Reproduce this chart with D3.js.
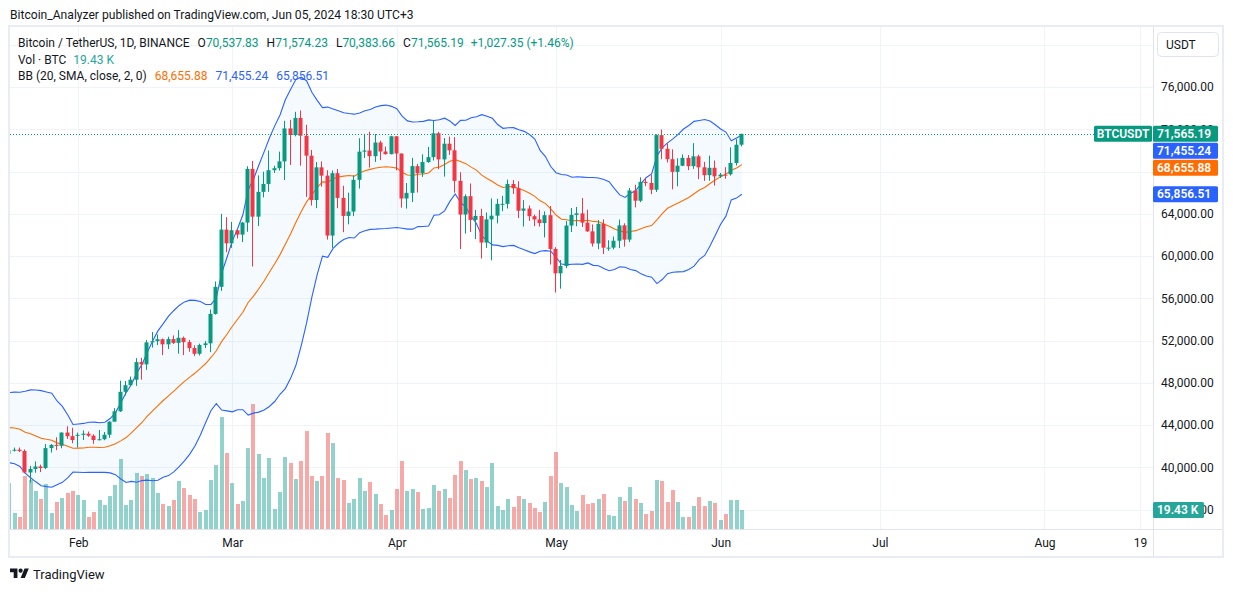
<!DOCTYPE html>
<html><head><meta charset="utf-8">
<script src="https://cdn.jsdelivr.net/npm/d3@7"></script>
<style>
body{margin:0;background:#fff;}
svg text{font-family:Roboto,"Noto Sans",sans-serif;}
</style></head>
<body><svg id="c" width="1233" height="592"></svg>
<script>
// ---------- DATA (daily BTCUSDT, 2024-01-19 .. 2024-06-05) ----------
const startDate = new Date(Date.UTC(2024,0,19));
const endDate = new Date(Date.UTC(2024,5,6));
const dates = d3.utcDay.range(startDate, endDate);

const open = [41278,41618,41665,41545,39507,39845,40077,39934,41816,42120,42035,43289,42947,
43000,43075,43185,42992,42583,42658,43084,44318,45301,47147,47771,48293,49958,49743,51826,51939,52124,51642,52138,51774,52258,51849,51288,50745,51572,51733,54523,57086,62504,
61198,62440,62030,63168,68245,63724,66074,66823,68124,68313,68955,72078,71452,73072,71388,69499,65300,68393,67609,61937,67840,65501,63796,64209,67211,69880,69988,69451,70745,69892,69645,
71333,69702,65446,65980,68508,67837,68896,69360,71620,69146,70631,70006,67116,63924,65661,63419,63793,61277,63470,63818,64940,64941,66819,66414,64289,64498,63770,63461,63118,63866,
60672,58364,59060,62882,63892,64038,63161,62334,61187,63049,60792,60793,61448,62901,61552,66206,65235,67024,66915,66274,71446,70148,69166,67969,68549,69290,68507,69436,68399,67652,68352,
67541,67706,67740,68804,70537.83];
const high = [42134,41869,41870,41689,40129,40555,40254,42210,42200,42842,43305,43882,43745,
43285,43489,43381,43119,43535,43345,44368,45600,48200,48170,48592,50334,50368,52043,52816,52575,52191,52357,52485,52985,52374,52059,51548,51708,51958,54938,57588,64000,63676,
63231,62487,63230,68499,69000,67637,67980,69990,68541,69887,72800,72890,73650,73777,72419,70043,68904,68956,68124,68100,68240,66650,65999,67628,71150,71561,71770,71552,70913,70355,71377,
71342,69708,66914,69291,68725,69629,70326,72797,71758,71172,71305,71256,67931,65840,66867,64365,64475,64125,65450,65419,65695,67233,67199,67075,65297,64791,63923,64370,64228,64734,
60841,59625,63320,64545,64646,65495,64390,62985,63404,63469,61490,61850,63450,63099,66444,66752,67451,67400,67700,71515,71979,70666,70096,69250,69610,69562,70687,69591,68914,69500,69044,
67860,68409,70288,71063,71574.23];
const low = [40297,41500,41446,39431,38555,39485,39550,39825,41394,41620,41804,42683,42276,
41884,42584,42880,42222,42546,42565,42788,44331,45243,46800,47688,47710,48300,49225,51330,51570,50625,51200,51677,50760,50625,50940,50525,50590,51280,50901,54451,56700,60364,
60777,61661,61320,62300,59005,62848,65551,66082,67861,68094,67194,68620,71333,68555,65600,64780,64533,66566,61555,60775,64529,62260,63000,63777,66385,69280,68379,68903,69076,69601,69624,
68110,64586,64494,65113,66011,67491,68824,69043,68210,67518,69567,66000,60660,62134,62274,61600,59768,60775,59600,63090,64237,64500,65864,63589,62794,63322,62824,62781,61765,59191,
56552,56911,58848,62274,62822,62746,62285,60888,60648,60187,60492,60632,60750,60888,61320,64602,65106,66600,65857,66060,69162,68852,66312,66600,68500,68128,68250,67278,67113,67128,66670,
67386,67315,67613,68567,70383.66];
const close = [41618,41665,41545,39507,39845,40077,39934,41816,42120,42035,43289,42947,42582,
43075,43185,42992,42583,42658,43084,44318,45301,47147,47771,48293,49958,49743,51826,51939,52124,51642,52138,51774,52258,51849,51288,50745,51572,51733,54523,57086,62504,61198,
62440,62030,63168,68245,63724,66074,66823,68124,68313,68955,72078,71452,73072,71388,69499,65300,68393,67609,61937,67840,65501,63796,64209,67211,69880,69988,69451,70745,69892,69645,71333,
69702,65446,65980,68508,67837,68896,69360,71620,69146,70631,70006,67116,63924,65661,63419,63793,61277,63470,63818,64940,64941,66819,66414,64289,64498,63770,63461,63118,63866,60672,
58364,59060,62882,63892,64038,63161,62334,61187,63049,60792,60793,61448,62901,61552,66206,65235,67024,66915,66274,71446,70148,69166,67969,68549,69290,68507,69436,68399,67652,68352,67541,
67706,67700,68804,70537.84,71565.19];
// volume in thousands of BTC
const volume = [47.0,16.4,12.3,54.2,50.1,38.9,30.7,46.0,16.4,27.6,31.7,36.8,38.9,
34.8,29.7,12.3,17.4,29.7,24.5,33.7,45.0,71.6,24.5,29.7,57.3,54.2,56.2,52.2,36.8,25.6,23.5,29.7,49.1,41.9,34.8,30.7,17.4,19.4,50.1,65.4,114.5,77.7,
47.0,25.6,28.6,82.8,127.8,76.7,52.2,72.6,20.5,37.8,73.6,67.5,51.1,69.5,100.2,54.2,49.1,54.2,98.2,87.9,52.2,50.1,26.6,30.7,52.2,38.9,48.1,35.8,25.6,14.3,19.4,
40.9,69.5,38.9,40.9,37.8,20.5,21.5,45.0,38.9,40.9,31.7,55.2,69.5,60.3,51.1,52.2,49.1,42.9,67.5,23.5,19.4,30.7,22.5,33.7,30.7,26.6,21.5,17.4,27.6,54.2,
78.7,47.0,42.9,24.5,18.4,34.8,25.6,26.6,30.7,35.8,14.3,13.3,32.7,28.6,42.9,30.7,26.6,15.3,18.4,50.1,49.1,27.6,39.9,27.6,12.3,12.3,23.5,32.7,23.5,28.6,26.6,
9.2,15.3,29.7,29.7,19.43];
// closes 2023-12-31 .. 2024-01-18 (warm-up for the 20-day Bollinger Bands)
const priorCloses = [42283,44180,44946,42845,44151,44162,43969,43929,46951,46110,46633,46340,42782,42847,41732,42511,43143,42741,41262];
const bbLast = [68655.88, 71455.24, 65856.51]; // basis, upper, lower as shown in legend
const priceTicks = d3.range(36000, 80001, 4000);
const hiddenTicks = [68000, 80000]; // covered by the axis labels / currency button
const timeTicks = [[2024,1,1,"Feb"],[2024,2,1,"Mar"],[2024,3,1,"Apr"],[2024,4,1,"May"],[2024,5,1,"Jun"],[2024,6,1,"Jul"],[2024,7,1,"Aug"],[2024,7,19,"19"]];

// ---------- LAYOUT ----------
const C = {up:"#089981", down:"#f23645", volUp:"rgba(38,166,154,0.5)", volDown:"rgba(239,83,80,0.5)",
  txt:"#131722", grid:"#f0f3fa", bbLine:"#2962ff", bbMid:"#ff6d00", border:"#e0e3eb"};
const plotL=10, plotR=1153, plotT=27, plotB=529;
const svg = d3.select("#c");

const x = d3.scaleUtc().domain([new Date(Date.UTC(2024,1,1)), new Date(Date.UTC(2024,7,19))]).range([78.3,1140]);
const y = d3.scaleLinear().domain([40000,76000]).range([467.3,87]);
const yVol = d3.scaleLinear().domain([0,130]).range([plotB, plotB-130*19/19.43]);

svg.append("rect").attr("width",1233).attr("height",592).attr("fill","#fff");

// clip
svg.append("clipPath").attr("id","pc").append("rect")
  .attr("x",plotL).attr("y",plotT).attr("width",plotR-plotL).attr("height",plotB-plotT);

const grid = svg.append("g").attr("clip-path","url(#pc)");
grid.selectAll("line.h").data(priceTicks.concat([84000])).join("line")
  .attr("x1",plotL).attr("x2",plotR).attr("y1",d=>Math.round(y(d))+0.5).attr("y2",d=>Math.round(y(d))+0.5)
  .attr("stroke",C.grid).attr("stroke-width",1);
grid.selectAll("line.v").data(timeTicks).join("line")
  .attr("y1",plotT).attr("y2",plotB)
  .attr("x1",d=>Math.round(x(new Date(Date.UTC(d[0],d[1],d[2]))))+0.5)
  .attr("x2",d=>Math.round(x(new Date(Date.UTC(d[0],d[1],d[2]))))+0.5)
  .attr("stroke",C.grid).attr("stroke-width",1);

// Bollinger bands (20, SMA, close, 2)
const allCloses = priorCloses.concat(close);
const bb = close.map((c,i)=>{
  const win = allCloses.slice(i, i+20);
  const m = d3.mean(win);
  const sd = Math.sqrt(d3.mean(win, v=>(v-m)*(v-m)));
  return {d:dates[i], mid:m, up:m+2*sd, lo:m-2*sd};
});

const plot = svg.append("g").attr("clip-path","url(#pc)");

// volume
const rows = dates.map((d,i)=>({d, o:open[i], h:high[i], l:low[i], c:close[i], v:volume[i]}));
plot.append("g").selectAll("rect").data(rows).join("rect")
  .attr("x",d=>Math.round(x(d.d))-2).attr("width",4)
  .attr("y",d=>yVol(d.v)).attr("height",d=>plotB-yVol(d.v))
  .attr("fill",d=>d.c>=d.o?C.volUp:C.volDown);

// band fill + lines
plot.append("path").datum(bb)
  .attr("d", d3.area().x(d=>x(d.d)).y0(d=>y(d.lo)).y1(d=>y(d.up)))
  .attr("fill","rgba(33,150,243,0.05)");
[["up",C.bbLine],["lo",C.bbLine],["mid",C.bbMid]].forEach(([k,col])=>{
  plot.append("path").datum(bb)
    .attr("d", d3.line().x(d=>x(d.d)).y(d=>y(d[k])))
    .attr("fill","none").attr("stroke",col).attr("stroke-width",1.1);
});

// candles
const cg = plot.append("g").selectAll("g").data(rows).join("g");
cg.append("rect")
  .attr("x",d=>Math.round(x(d.d))-1).attr("width",1)
  .attr("y",d=>y(d.h)).attr("height",d=>Math.max(1,y(d.l)-y(d.h)))
  .attr("fill",d=>d.c>=d.o?C.up:C.down);
cg.append("rect")
  .attr("x",d=>Math.round(x(d.d))-2.5).attr("width",4)
  .attr("y",d=>y(Math.max(d.o,d.c))).attr("height",d=>Math.max(1,Math.abs(y(d.o)-y(d.c))))
  .attr("fill",d=>d.c>=d.o?C.up:C.down);

// last price dotted line
const lastY = y(close[close.length-1]);
svg.append("line").attr("x1",plotL).attr("x2",1094).attr("y1",Math.round(lastY)+0.5).attr("y2",Math.round(lastY)+0.5)
  .attr("stroke",C.up).attr("stroke-width",1).attr("stroke-dasharray","1 2");

// frame & separators
svg.append("line").attr("x1",1153.5).attr("x2",1153.5).attr("y1",plotT).attr("y2",556).attr("stroke",C.border);
svg.append("line").attr("x1",plotL).attr("x2",1223).attr("y1",529.5).attr("y2",529.5).attr("stroke",C.border);
svg.append("rect").attr("x",9).attr("y",26).attr("width",1214).attr("height",531)
  .attr("fill","none").attr("stroke","#e9ecf2").attr("stroke-width",2);

// price axis
const pa = svg.append("g").attr("transform","translate(1153,0)")
  .call(d3.axisRight(y).tickValues(priceTicks.filter(v=>!hiddenTicks.includes(v))).tickFormat(d3.format(",.2f")).tickSize(0).tickPadding(8));
pa.select(".domain").remove();
pa.selectAll("text").attr("font-size",12).attr("fill",C.txt).attr("font-family","Roboto, sans-serif");

// time axis
const ta = svg.append("g").attr("transform","translate(0,529)")
  .call(d3.axisBottom(x).tickValues(timeTicks.map(t=>new Date(Date.UTC(t[0],t[1],t[2]))))
     .tickFormat((d,i)=>timeTicks[i][3]).tickSize(0));
ta.select(".domain").remove();
ta.selectAll("text").attr("y",14).attr("dy","0.35em").attr("font-size",12).attr("fill",C.txt).attr("font-family","Roboto, sans-serif");

// price labels on axis
const fmt = d3.format(",.2f");
const labels = [
  {v:close[close.length-1], col:C.up},
  {v:bbLast[1], col:C.bbLine},
  {v:bbLast[0], col:C.bbMid},
  {v:bbLast[2], col:C.bbLine}
];
let prevBottom = -1e9;
labels.forEach(l=>{
  let cy = y(l.v);
  if (cy - 8 < prevBottom + 1) cy = prevBottom + 1 + 8;
  prevBottom = cy + 8;
  l.cy = cy;
});
const lg = svg.append("g");
lg.selectAll("rect").data(labels).join("rect")
  .attr("x",1153).attr("y",d=>d.cy-8).attr("width",65).attr("height",16).attr("rx",1.5).attr("fill",d=>d.col);
lg.selectAll("text").data(labels).join("text")
  .attr("x",1157).attr("y",d=>d.cy).attr("dy","0.35em").attr("font-size",12).attr("font-weight",600)
  .attr("fill","#fff").text(d=>fmt(d.v));
// BTCUSDT tag
svg.append("rect").attr("x",1094).attr("y",labels[0].cy-8).attr("width",58).attr("height",16).attr("rx",1.5).attr("fill",C.up);
svg.append("text").attr("x",1123).attr("y",labels[0].cy).attr("dy","0.35em").attr("text-anchor","middle")
  .attr("font-size",12).attr("font-weight",600).attr("fill","#fff").text("BTCUSDT");
// volume tag
const vY = yVol(volume[volume.length-1]);
svg.append("rect").attr("x",1153).attr("y",vY-8).attr("width",51).attr("height",16).attr("rx",1.5).attr("fill","#26a69a");
svg.append("text").attr("x",1157).attr("y",vY).attr("dy","0.35em").attr("font-size",12).attr("font-weight",600)
  .attr("fill","#fff").text(d3.format(".2f")(volume[volume.length-1])+" K");

// USDT button
svg.append("rect").attr("x",1157.5).attr("y",32.5).attr("width",61).attr("height",24).attr("rx",4)
  .attr("fill","#fff").attr("stroke","#e0e3eb");
svg.append("text").attr("x",1166).attr("y",44.5).attr("dy","0.35em").attr("font-size",12).attr("fill",C.txt).text("USDT");

// header
svg.append("text").attr("x",10).attr("y",15).attr("dy","0.35em").attr("font-size",12.1).attr("fill",C.txt)
  .text("Bitcoin_Analyzer published on TradingView.com, Jun 05, 2024 18:30 UTC+3");

// legend
const n = close.length-1;
const chg = close[n]-close[n-1];
const l1 = svg.append("text").attr("x",18).attr("y",42.5).attr("dy","0.35em").attr("font-size",12);
[["Bitcoin / TetherUS, 1D, BINANCE",C.txt,0],["O",C.txt,8],[fmt(open[n]),C.up,0],["H",C.txt,8],[fmt(high[n]),C.up,0],
 ["L",C.txt,8],[fmt(low[n]),C.up,0],["C",C.txt,8],[fmt(close[n]),C.up,0],
 [(chg>=0?"+":"")+fmt(chg)+" (+"+d3.format(".2f")(chg/close[n-1]*100)+"%)",C.up,7]]
 .forEach(([t,c,dx])=>l1.append("tspan").attr("dx",dx).attr("fill",c).text(t));
const l2 = svg.append("text").attr("x",18).attr("y",59.5).attr("dy","0.35em").attr("font-size",12);
l2.append("tspan").attr("fill",C.txt).text("Vol · BTC");
l2.append("tspan").attr("dx",7).attr("fill","#26a69a").text(d3.format(".2f")(volume[n])+" K");
const l3 = svg.append("text").attr("x",18).attr("y",76).attr("dy","0.35em").attr("font-size",12);
l3.append("tspan").attr("fill",C.txt).text("BB (20, SMA, close, 2, 0)");
l3.append("tspan").attr("dx",8).attr("fill",C.bbMid).text(fmt(bbLast[0]));
l3.append("tspan").attr("dx",8).attr("fill",C.bbLine).text(fmt(bbLast[1]));
l3.append("tspan").attr("dx",8).attr("fill",C.bbLine).text(fmt(bbLast[2]));

// footer logo
const logo = svg.append("g").attr("transform","translate(10,566.4) scale(0.53)").attr("fill","#131722");
logo.append("path").attr("d","M14 22H7V11H0V4h14v18zM28 22h-8l7.5-18h8L28 22z");
logo.append("circle").attr("cx",20).attr("cy",8).attr("r",4);
svg.append("text").attr("x",33).attr("y",574).attr("dy","0.35em").attr("font-size",13).attr("fill",C.txt).text("TradingView");
</script></body></html>
